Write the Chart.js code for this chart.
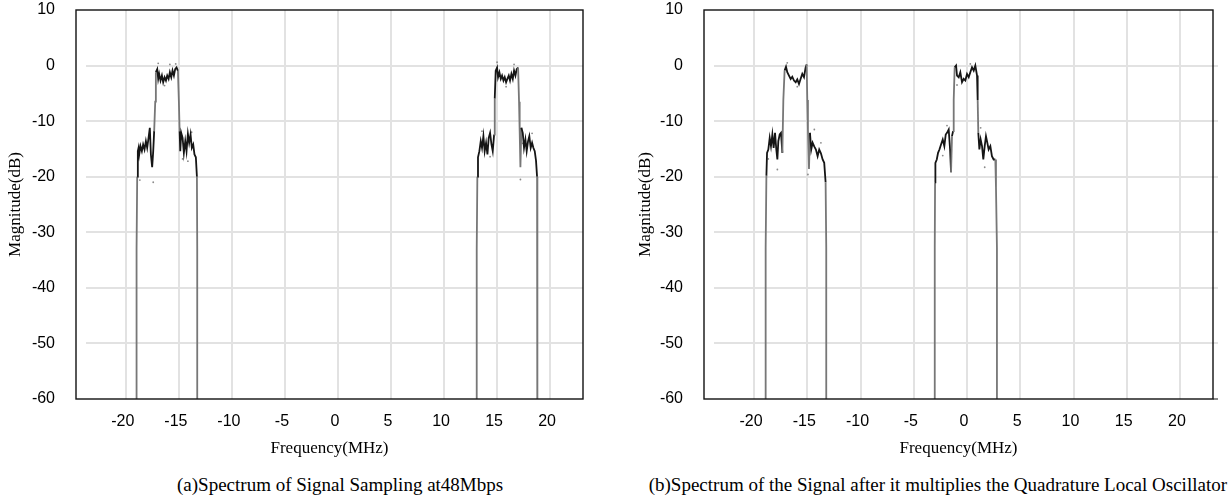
<!DOCTYPE html>
<html>
<head>
<meta charset="utf-8">
<script src="https://cdn.jsdelivr.net/npm/chart.js@4.4.1/dist/chart.umd.min.js"></script>
<style>
  body { margin: 0; background: #fff; width: 1230px; height: 499px; position: relative; overflow: hidden; }
  .panel { position: absolute; top: 0; }
  .caption { position: absolute; top: 474px; font-family: 'Liberation Serif', 'Times New Roman', serif; font-size: 19px; white-space: nowrap; color: #000; }
</style>
</head>
<body>
<div class="panel" style="left:0"><canvas id="specA" width="615" height="470"></canvas></div>
<div class="panel" style="left:630px"><canvas id="specB" width="600" height="470"></canvas></div>
<div class="caption" style="left:177px">(a)Spectrum of Signal Sampling at48Mbps</div>
<div class="caption" style="right:3px">(b)Spectrum of the Signal after it multiplies the Quadrature Local Oscillator</div>

<script>
// axis ticks
const xTicks = [-20, -15, -10, -5, 0, 5, 10, 15, 20];
const yTicks = [-60, -50, -40, -30, -20, -10, 0, 10];

// [frequency MHz, magnitude dB]; -80 marks the floor below the axis
// (a) sampled at 48Mbps: images at -16 and +16 MHz
const bandA = [
  [-18.99, -80], [-18.99, -33], [-18.93, -20], [-18.87, -15.4], [-18.80, -14.8], [-18.74, -16.0],
  [-18.62, -14.5], [-18.49, -15.4], [-18.37, -14.2], [-18.24, -15.1], [-18.11, -13.6], [-17.99, -14.8],
  [-17.86, -13.0], [-17.74, -11.2], [-17.64, -16.0], [-17.52, -18.3], [-17.42, -15.4], [-17.33, -11.8],
  [-17.23, -6.5], [-17.17, -1.2], [-17.04, -0.65], [-16.95, -2.4], [-16.86, -1.5], [-16.73, -2.7],
  [-16.60, -1.8], [-16.48, -3.0], [-16.35, -2.1], [-16.22, -2.7], [-16.10, -1.8], [-15.97, -2.4],
  [-15.85, -1.2], [-15.72, -2.1], [-15.60, -0.9], [-15.47, -1.8], [-15.35, -0.65], [-15.22, -0.35],
  [-15.09, -0.94], [-15.00, -6.5], [-14.93, -11.8], [-14.87, -15.4], [-14.78, -12.1], [-14.65, -13.0],
  [-14.53, -15.7], [-14.40, -13.6], [-14.28, -15.4], [-14.15, -12.3], [-14.03, -13.9], [-13.90, -12.4],
  [-13.78, -14.8], [-13.65, -14.2], [-13.53, -16.0], [-13.40, -16.5], [-13.30, -20], [-13.27, -33], [-13.27, -80]
];
const bandB = [
  [13.08, -80], [13.08, -33], [13.14, -20], [13.20, -16.5], [13.33, -15.4], [13.46, -13.6],
  [13.58, -14.8], [13.71, -12.7], [13.83, -15.4], [13.96, -13.9], [14.09, -16.0], [14.21, -13.0],
  [14.34, -12.1], [14.47, -14.2], [14.59, -15.4], [14.72, -12.4], [14.78, -5.9], [14.87, -0.94],
  [15.00, -0.35], [15.09, -2.1], [15.22, -1.2], [15.35, -2.4], [15.47, -1.8], [15.60, -2.7],
  [15.72, -2.1], [15.85, -3.0], [15.97, -2.4], [16.10, -1.8], [16.22, -2.7], [16.35, -1.5],
  [16.48, -2.4], [16.60, -0.9], [16.73, -1.8], [16.85, -0.65], [16.98, -0.35], [17.07, -6.5],
  [17.13, -11.8], [17.20, -18.3], [17.29, -11.2], [17.42, -12.1], [17.54, -14.8], [17.67, -13.3],
  [17.79, -15.4], [17.92, -13.6], [18.04, -12.7], [18.17, -14.8], [18.30, -13.9], [18.42, -14.8],
  [18.55, -15.4], [18.67, -17.1], [18.77, -20], [18.80, -33], [18.80, -80]
];
const specksA = [
  [-16.95, 0.4], [-16.35, -3.6], [-15.85, 0.2], [-15.30, 0.3], [-18.68, -20.6], [-17.42, -21.0],
  [-14.65, -16.8], [-13.80, -12.0], [-14.15, -17.2],
  [15.00, 0.6], [15.85, -3.8], [16.60, 0.2], [17.42, -14.0], [17.20, -20.5], [18.30, -12.2],
  [14.34, -16.4], [13.58, -11.8]
];

// (b) after the quadrature LO: bands at -16 and 0 MHz
const bandC = [
  [-18.91, -80], [-18.91, -32.8], [-18.84, -19.8], [-18.78, -15.7], [-18.66, -15.1], [-18.53, -13.0],
  [-18.41, -14.5], [-18.28, -12.4], [-18.16, -14.8], [-18.03, -12.1], [-17.91, -15.1], [-17.81, -16.9],
  [-17.72, -13.6], [-17.59, -12.4], [-17.47, -12.1], [-17.34, -15.7], [-17.25, -6.2], [-17.13, -0.9],
  [-17.00, -0.2], [-16.88, -1.2], [-16.72, -1.8], [-16.56, -2.4], [-16.41, -2.0], [-16.25, -2.7],
  [-16.09, -3.0], [-15.94, -2.5], [-15.78, -3.3], [-15.63, -2.4], [-15.47, -1.5], [-15.31, -2.1],
  [-15.16, -0.4], [-15.06, 0.2], [-15.00, -6.2], [-14.94, -11.5], [-14.84, -18.6], [-14.75, -12.1],
  [-14.63, -15.1], [-14.50, -13.9], [-14.34, -14.6], [-14.19, -15.1], [-14.03, -16.3], [-13.88, -15.1],
  [-13.72, -15.8], [-13.56, -16.9], [-13.41, -17.5], [-13.28, -21], [-13.22, -32.8], [-13.22, -80]
];
const bandD = [
  [-3.03, -80], [-3.03, -32.8], [-3.00, -21], [-2.97, -17.5], [-2.84, -16.9], [-2.72, -15.7],
  [-2.59, -15.1], [-2.44, -14.2], [-2.28, -13.3], [-2.13, -14.5], [-2.00, -12.4], [-1.88, -12.1],
  [-1.72, -11.5], [-1.59, -15.1], [-1.50, -19.2], [-1.41, -12.7], [-1.31, -11.8], [-1.25, -6.2],
  [-1.16, -0.3], [-1.03, 0.0], [-0.94, -1.8], [-0.78, -2.1], [-0.63, -1.2], [-0.47, -3.0],
  [-0.31, -2.4], [-0.16, -2.7], [0.00, -1.5], [0.16, -2.1], [0.31, -1.2], [0.47, -0.3],
  [0.63, -0.9], [0.78, 0.0], [0.94, -1.8], [1.00, -6.2], [1.06, -12.1], [1.16, -15.1],
  [1.28, -13.3], [1.41, -14.5], [1.53, -16.9], [1.66, -14.5], [1.78, -12.7], [1.91, -13.9],
  [2.03, -15.1], [2.19, -14.5], [2.34, -16.3], [2.50, -16.9], [2.66, -16.9], [2.72, -22],
  [2.81, -32.8], [2.81, -80]
];
const specksB = [
  [-16.88, 0.5], [-15.94, -3.8], [-18.66, -16.8], [-17.81, -18.7], [-14.34, -11.5], [-13.72, -13.9],
  [-14.94, -19.6], [-0.94, -3.5], [0.31, 0.3], [-1.88, -10.8], [1.28, -11.2], [1.66, -18.3], [-2.28, -16.2]
];

const toXY = pts => pts.map(p => ({ x: p[0], y: p[1] }));

// light horizontal grid (inset from the left edge) and the black plot frame
const frame = {
  id: 'frame',
  beforeDatasetsDraw(chart, args, opts) {
    const { ctx, chartArea: a, scales: { y } } = chart;
    ctx.save();
    ctx.strokeStyle = '#e2e2e2';
    ctx.lineWidth = 2;
    yTicks.slice(1, -1).forEach(v => {
      const py = Math.round(y.getPixelForValue(v));
      ctx.beginPath();
      ctx.moveTo(a.left + 10, py);
      ctx.lineTo(a.right + opts.gridOver, py);
      ctx.stroke();
    });
    ctx.restore();
  },
  afterDatasetsDraw(chart, args, opts) {
    const { ctx, chartArea: a } = chart;
    ctx.save();
    if (opts.gridOver) {
      ctx.strokeStyle = '#888';
      ctx.lineWidth = 2;
      ctx.beginPath();
      ctx.moveTo(a.right, a.bottom);
      ctx.lineTo(a.right + opts.gridOver, a.bottom);
      ctx.stroke();
    }
    ctx.strokeStyle = '#111';
    ctx.lineWidth = 1.4;
    ctx.strokeRect(a.left, a.top, a.right - a.left, a.bottom - a.top);
    ctx.restore();
  }
};

function bandSet(pts) {
  return {
    data: toXY(pts),
    borderWidth: 1.8,
    pointRadius: 0,
    tension: 0,
    segment: {
      borderColor: c => Math.abs(c.p1.parsed.y - c.p0.parsed.y) > 5 ? '#777' : '#151515'
    }
  };
}

function makeChart(id, bands, specks, yWidth, padRight, gridOver) {
  const datasets = bands.map(bandSet);
  datasets.push({
    type: 'scatter',
    data: toXY(specks),
    pointRadius: 0.9,
    pointBorderWidth: 0,
    pointBackgroundColor: '#8a8a8a'
  });
  return new Chart(document.getElementById(id), {
    type: 'line',
    data: { datasets: datasets },
    plugins: [frame],
    options: {
      responsive: false,
      animation: false,
      layout: { padding: { top: 10, right: padRight, left: 0, bottom: 0 } },
      plugins: {
        legend: { display: false },
        tooltip: { enabled: false },
        frame: { gridOver: gridOver }
      },
      scales: {
        x: {
          type: 'linear',
          min: -24.7,
          max: 23.1,
          afterBuildTicks: s => { s.ticks = xTicks.map(v => ({ value: v })); },
          afterFit: s => { s.height = 71; },
          grid: { color: '#e2e2e2', lineWidth: 2, drawTicks: false },
          border: { display: false },
          ticks: {
            padding: 13,
            labelOffset: -3,
            color: '#000',
            font: { family: 'Liberation Sans', size: 16 }
          },
          title: {
            display: true,
            text: 'Frequency(MHz)',
            color: '#000',
            padding: { top: 0, bottom: 11 },
            font: { family: 'Liberation Serif', size: 17 }
          }
        },
        y: {
          min: -60,
          max: 10,
          afterBuildTicks: s => { s.ticks = yTicks.map(v => ({ value: v })); },
          afterFit: s => {
            s.width = yWidth;
            s.paddingTop = 0;
            s.paddingBottom = 0;
          },
          grid: { display: false },
          border: { display: false },
          ticks: {
            padding: 13,
            color: '#000',
            font: { family: 'Liberation Sans', size: 16 }
          },
          title: {
            display: true,
            text: 'Magnitude(dB)',
            color: '#000',
            padding: { top: 5, bottom: 0 },
            font: { family: 'Liberation Serif', size: 17 }
          }
        }
      }
    }
  });
}

makeChart('specA', [bandA, bandB], specksA, 76, 32, 0);
makeChart('specB', [bandC, bandD], specksB, 74, 17, 5);
</script>
</body>
</html>
